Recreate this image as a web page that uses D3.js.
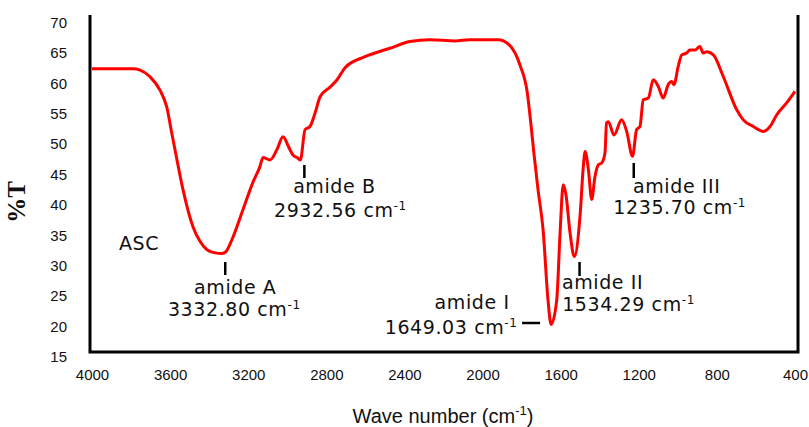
<!DOCTYPE html>
<html lang="en">
<head>
    <meta charset="UTF-8">
    <title>FTIR ASC</title>
    <script src="https://cdn.jsdelivr.net/npm/d3@7"></script>
    <style>
        body { margin: 0; background: #fff; }
    </style>
</head>
<body>
<script>
    // spectrum: wave number (cm-1) and %T
    const waveNumbers = [4000, 3790, 3754, 3703, 3652, 3617, 3592, 3566, 3534, 3483, 3447, 3411, 3370, 3333,
        3314, 3283, 3227, 3176, 3140, 3124, 3088, 3053, 3022, 2991, 2971, 2950, 2933, 2909, 2884, 2858, 2832,
        2781, 2745, 2704, 2602, 2474, 2372, 2269, 2141, 2064, 1921, 1862, 1808, 1772, 1752, 1736, 1716, 1690,
        1665, 1649, 1620, 1603, 1587, 1573, 1552, 1530, 1501, 1484, 1475, 1458, 1441, 1424, 1407, 1390, 1373,
        1365, 1356, 1327, 1288, 1262, 1232, 1211, 1194, 1177, 1151, 1126, 1100, 1075, 1049, 1032, 1020, 998,
        980, 955, 938, 912, 887, 870, 852, 818, 767, 699, 665, 613, 561, 528, 494, 443, 400];
    const transmittance = [62.4, 62.4, 62.2, 61.1, 58.9, 56.1, 51.9, 47.6, 42.5, 36.4, 34.0, 32.6, 32.1, 32.0,
        32.3, 34.3, 39.2, 43.7, 46.3, 47.8, 47.4, 49.1, 51.2, 49.4, 48.2, 47.8, 47.4, 52.4, 52.9, 55.1, 57.8,
        59.4, 60.6, 62.6, 64.4, 65.8, 66.9, 67.2, 67.0, 67.2, 67.2, 66.3, 63.0, 58.7, 53.2, 48.2, 42.5, 35.9,
        24.4, 20.3, 24.4, 35.4, 43.3, 41.7, 35.4, 31.5, 38.1, 46.3, 48.8, 45.8, 40.9, 44.7, 46.6, 46.9, 48.6,
        53.5, 53.7, 51.5, 54.0, 52.1, 48.0, 52.4, 52.9, 57.3, 57.6, 60.6, 59.5, 57.6, 59.8, 60.3, 59.8, 62.8,
        64.7, 65.0, 65.5, 65.5, 66.1, 65.0, 65.2, 64.7, 61.1, 55.7, 54.0, 52.9, 52.1, 52.9, 54.8, 56.8, 58.7];

    const xTicks = [4000, 3600, 3200, 2800, 2400, 2000, 1600, 1200, 800, 400];
    const yTicks = [15, 20, 25, 30, 35, 40, 45, 50, 55, 60, 65, 70];

    // band assignments
    const bandNames = ["amide A", "amide B", "amide I", "amide II", "amide III"];
    const bandPeaks = [3333, 2933, 1649, 1534, 1236];
    const bandLabels = ["3332.80", "2932.56", "1649.03", "1534.29", "1235.70"];
    const sampleName = "ASC";

    const width = 809, height = 427;

    const svg = d3.select("body").append("svg")
        .attr("width", width)
        .attr("height", height);

    const x = d3.scaleLinear().domain([4000, 400]).range([92, 795]);
    const y = d3.scaleLinear().domain([15, 70]).range([356.7, 22.7]);

    const frame = {left: 90, right: 798, top: 15, bottom: 352};

    // frame: left, bottom and right lines
    svg.append("path")
        .attr("d", `M${frame.left},${frame.top}V${frame.bottom}H${frame.right}V${frame.top}`)
        .attr("fill", "none")
        .attr("stroke", "#000")
        .attr("stroke-width", 3);

    // tick labels, no tick marks
    const tickFont = "'Liberation Sans', Arial, sans-serif";
    const yAxis = d3.axisLeft(y).tickValues(yTicks).tickSize(0).tickPadding(0);
    svg.append("g")
        .attr("transform", "translate(67,0)")
        .call(yAxis)
        .call(g => g.select(".domain").remove())
        .selectAll("text")
        .attr("font-family", tickFont)
        .attr("font-size", 15)
        .attr("fill", "#111");

    const xAxis = d3.axisBottom(x).tickValues(xTicks).tickSize(0).tickPadding(0).tickFormat(d3.format("d"));
    svg.append("g")
        .attr("transform", "translate(0,369)")
        .call(xAxis)
        .call(g => g.select(".domain").remove())
        .selectAll("text")
        .attr("font-family", tickFont)
        .attr("font-size", 15)
        .attr("fill", "#111");

    // spectrum
    const points = waveNumbers.map((w, i) => [w, transmittance[i]]);
    const line = d3.line()
        .x(d => x(d[0]))
        .y(d => y(d[1]))
        .curve(d3.curveMonotoneX);

    svg.append("path")
        .datum(points)
        .attr("d", line)
        .attr("fill", "none")
        .attr("stroke", "#ff0000")
        .attr("stroke-width", 3)
        .attr("stroke-linejoin", "round");

    // annotations
    const annFont = "'DejaVu Sans', Verdana, sans-serif";
    // per band: tick, name position, value position (pixel offsets from the peak)
    const layout = [
        {tick: [3, 262, 3, 275], name: [13, 294], value: [12, 316]},
        {tick: [4, 165, 4, 178], name: [34, 193], value: [40, 217]},
        {tick: [-29, 323, -11, 323], name: [-79, 309], value: [-100, 334]},
        {tick: [6, 262, 6, 276], name: [29, 289], value: [55, 311]},
        {tick: [2, 163, 2, 178], name: [45, 193], value: [48, 214]}
    ];

    const ann = svg.append("g")
        .attr("font-family", annFont)
        .attr("font-size", 19)
        .attr("letter-spacing", 0.6)
        .attr("fill", "#111")
        .attr("text-anchor", "middle");

    bandNames.forEach((name, i) => {
        const px = x(bandPeaks[i]);
        const l = layout[i];
        ann.append("line")
            .attr("x1", px + l.tick[0]).attr("y1", l.tick[1])
            .attr("x2", px + l.tick[2]).attr("y2", l.tick[3])
            .attr("stroke", "#000")
            .attr("stroke-width", 2.5);
        ann.append("text")
            .attr("x", px + l.name[0])
            .attr("y", l.name[1])
            .text(name);
        const t = ann.append("text")
            .attr("x", px + l.value[0])
            .attr("y", l.value[1]);
        t.append("tspan").text(bandLabels[i] + " cm");
        t.append("tspan").attr("font-size", 12).attr("dy", -7).text("-1");
    });

    ann.append("text")
        .attr("x", 139)
        .attr("y", 250)
        .text(sampleName);

    // axis titles
    const xTitle = svg.append("text")
        .attr("x", 443)
        .attr("y", 423)
        .attr("text-anchor", "middle")
        .attr("font-family", tickFont)
        .attr("font-size", 20)
        .attr("fill", "#111");
    xTitle.append("tspan").text("Wave number (cm");
    xTitle.append("tspan").attr("font-size", 13).attr("dy", -8).text("-1");
    xTitle.append("tspan").attr("dy", 8).text(")");

    svg.append("text")
        .attr("transform", "translate(25,202) rotate(-90)")
        .attr("text-anchor", "middle")
        .attr("font-family", "'Liberation Serif', 'Times New Roman', serif")
        .attr("font-weight", "bold")
        .attr("font-size", 25)
        .attr("fill", "#111")
        .text("%T");
</script>
</body>
</html>
